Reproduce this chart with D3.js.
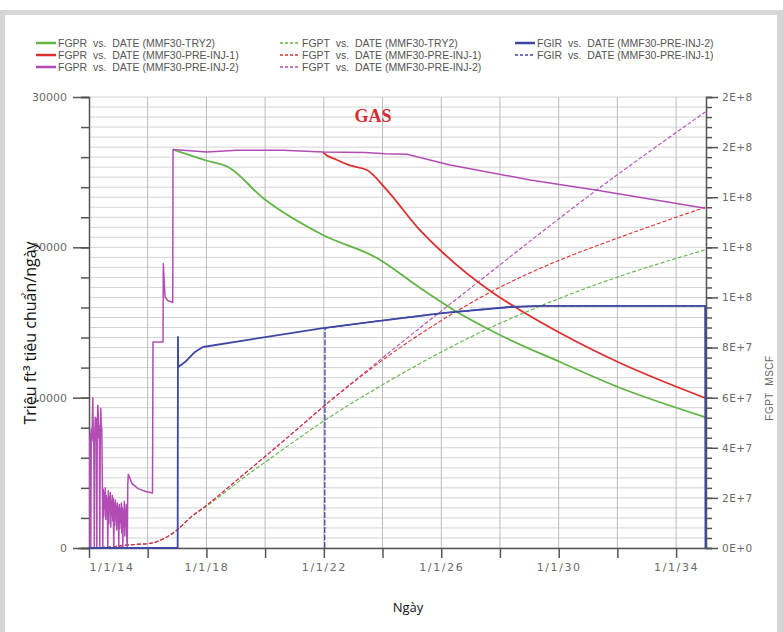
<!DOCTYPE html>
<html>
<head>
<meta charset="utf-8">
<script src="https://cdn.jsdelivr.net/npm/d3@7"></script>
<style>
  body { margin: 0; background: #fff; }
  svg { display: block; }
</style>
</head>
<body>
<script>
// ---- data (decimal years) ----

// FGPR, MMF30-PRE-INJ-2 (left axis): noisy start 2014-2015
const fgprInj2EarlyYear = [2014.000,
  2014.010, 2014.027, 2014.044, 2014.061, 2014.078, 2014.095, 2014.112, 2014.130, 2014.147, 2014.164,
  2014.181, 2014.198, 2014.215, 2014.232, 2014.249, 2014.266, 2014.283, 2014.300, 2014.317, 2014.334,
  2014.351, 2014.368, 2014.385, 2014.402, 2014.419, 2014.436, 2014.453, 2014.470, 2014.487, 2014.504,
  2014.521, 2014.538, 2014.555, 2014.572, 2014.589, 2014.607, 2014.624, 2014.641, 2014.658, 2014.675,
  2014.692, 2014.709, 2014.726, 2014.743, 2014.760, 2014.777, 2014.794, 2014.811, 2014.828, 2014.845,
  2014.862, 2014.879, 2014.896, 2014.913, 2014.930, 2014.947, 2014.964, 2014.981, 2014.998, 2015.015,
  2015.032, 2015.049, 2015.066, 2015.084, 2015.101, 2015.118, 2015.135, 2015.152, 2015.169, 2015.186,
  2015.203, 2015.220, 2015.237, 2015.254, 2015.271, 2015.288, 2015.305, 2015.322, 2015.339];
const fgprInj2Early = [0,
  7200, 6800, 7600, 0, 7900, 7100, 8100, 10000, 7400, 6900,
  0, 7800, 8700, 7200, 8600, 0, 8200, 9500, 8900, 7300,
  8100, 0, 7600, 9300, 8200, 7900, 5000, 0, 3900, 2100,
  3700, 2600, 4000, 1900, 3500, 2300, 3300, 0, 3800, 1600,
  3400, 2500, 3700, 1400, 3100, 2200, 3500, 1800, 3300, 0,
  3000, 1500, 3200, 2000, 2800, 1200, 3000, 1900, 2700, 0,
  2900, 1300, 2600, 1700, 3000, 1000, 2700, 0, 2500, 1400,
  3100, 800, 2600, 1500, 2900, 600, 0, 4200, 4900];
const fgprInj2Year = [2015.465, 2015.670, 2015.908, 2016.164, 2016.181, 2016.522, 2016.532, 2016.590, 2016.692, 2016.852,
  2016.862, 2018.02, 2019.04, 2020.61, 2021.97, 2023.40, 2024.09, 2024.83, 2026.30, 2029.03, 2031.31, 2034.99];
const fgprInj2 = [4300, 3950, 3780, 3660, 13700, 13700, 18900, 16700, 16450, 16350,
  26500, 26340, 26450, 26450, 26340, 26300, 26230, 26190, 25480, 24480, 23800, 22600];

// FGPR, MMF30-PRE-INJ-1 (branches off INJ-2 in 2022)
const fgprInj1Year = [2021.97, 2022.00, 2022.45, 2022.89, 2023.47, 2024.15, 2025.18, 2026.03, 2027.77, 2028.68, 2030.05, 2032.02, 2034.99];
const fgprInj1 = [26340, 26270, 25810, 25450, 25140, 23810, 21350, 19690, 16960, 15830, 14300, 12370, 9980];

// FGPR, MMF30-TRY2
const fgprTry2Year = [2016.862, 2018.02, 2018.74, 2019.93, 2021.97, 2023.81, 2025.28, 2026.54, 2028.00, 2030.05, 2032.02, 2034.99];
const fgprTry2 = [26500, 25760, 25340, 23280, 20820, 19290, 17300, 15700, 14170, 12370, 10710, 8710];

// FGIR, MMF30-PRE-INJ-2 and PRE-INJ-1
const fgirInj2Year = [2014.0, 2017.02, 2017.03, 2017.04, 2017.27, 2017.61, 2017.88, 2020.06, 2021.97, 2023.57, 2026.03, 2028.34, 2029.37, 2034.99, 2035.0];
const fgirInj2 = [0, 0, 14040, 12040, 12370, 13040, 13370, 14040, 14630, 15030, 15630, 16030, 16100, 16100, 0];
const fgirInj1Year = [2022.03, 2022.04, 2023.57, 2026.03, 2028.34, 2029.37, 2034.99];
const fgirInj1 = [0, 14630, 15030, 15630, 16030, 16100, 16100];

// FGPT (right axis, MSCF): common start, then each case
const fgptBaseYear = [2014.0, 2014.72, 2015.33, 2016.15, 2016.59, 2017.03, 2017.44];
const fgptBase = [0, 4e5, 1.2e6, 2.0e6, 4.0e6, 7.5e6, 1.2e7];
const fgptInj2Year = [2018.02, 2019.04, 2020.06, 2021.02, 2021.97, 2023.91, 2027.22, 2031.31, 2034.99];
const fgptInj2 = [1.72e7, 2.71e7, 3.71e7, 4.67e7, 5.63e7, 7.5e7, 1.058e8, 1.43e8, 1.74e8];
const fgptInj1Year = [2018.02, 2019.04, 2020.06, 2021.02, 2021.97, 2023.91, 2026.03, 2027.66, 2030.05, 2031.85, 2034.99];
const fgptInj1 = [1.72e7, 2.71e7, 3.71e7, 4.67e7, 5.63e7, 7.42e7, 9.1e7, 1.02e8, 1.15e8, 1.23e8, 1.36e8];
const fgptTry2Year = [2018.02, 2019.38, 2020.51, 2021.97, 2023.91, 2027.59, 2029.26, 2031.85, 2034.99];
const fgptTry2 = [1.68e7, 2.9e7, 3.85e7, 5.05e7, 6.45e7, 8.75e7, 9.6e7, 1.075e8, 1.19e8];

const legendLabels = [
  "FGPR  vs.  DATE (MMF30-TRY2)", "FGPR  vs.  DATE (MMF30-PRE-INJ-1)", "FGPR  vs.  DATE (MMF30-PRE-INJ-2)",
  "FGPT  vs.  DATE (MMF30-TRY2)", "FGPT  vs.  DATE (MMF30-PRE-INJ-1)", "FGPT  vs.  DATE (MMF30-PRE-INJ-2)",
  "FGIR  vs.  DATE (MMF30-PRE-INJ-2)", "FGIR  vs.  DATE (MMF30-PRE-INJ-1)"
];
const xTickYears = [2014, 2016, 2018, 2020, 2022, 2024, 2026, 2028, 2030, 2032, 2034];
const leftTicks = [0, 10000, 20000, 30000];
const rightTicks = [0, 2e7, 4e7, 6e7, 8e7, 1e8, 1.2e8, 1.4e8, 1.6e8, 1.8e8];

// ---- setup ----
const WIDTH = 783, HEIGHT = 632;
const GREEN = "#62b446", RED = "#de3030", MAGENTA = "#b24cb4", BLUE = "#3f47a6";

const toDate = t => {
  const y = Math.floor(t);
  const s = new Date(y, 0, 1), e = new Date(y + 1, 0, 1);
  return new Date(+s + (t - y) * (e - s));
};
const zip = (ts, vs) => ts.map((t, i) => ({ date: toDate(t), value: vs[i] }));

const svg = d3.select("body").append("svg")
  .attr("width", WIDTH)
  .attr("height", HEIGHT);

// frame
svg.append("rect").attr("width", WIDTH).attr("height", HEIGHT).attr("fill", "#d6d6d6");
svg.append("rect").attr("width", WIDTH).attr("height", 10).attr("fill", "#fff");
svg.append("rect").attr("x", 5).attr("y", 15).attr("width", WIDTH - 11).attr("height", HEIGHT - 15).attr("fill", "#fff");

const x = d3.scaleTime()
  .domain([new Date(2014, 0, 1), new Date(2035, 0, 8)])
  .range([89, 706]);
const yL = d3.scaleLinear().domain([0, 30000]).range([548, 97]);
const yR = d3.scaleLinear().domain([0, 1.8e8]).range([548, 97]);

// grid
const grid = svg.append("g");
grid.selectAll(".hg")
  .data(d3.range(0, 1.8e8 + 1, 4e6))
  .join("line")
  .attr("x1", 89).attr("x2", 706)
  .attr("y1", d => yR(d)).attr("y2", d => yR(d))
  .attr("stroke", "#d4d4d4").attr("stroke-width", 1);
grid.selectAll(".vg")
  .data(xTickYears.slice(1))
  .join("line")
  .attr("x1", d => x(toDate(d))).attr("x2", d => x(toDate(d)))
  .attr("y1", 97).attr("y2", 548)
  .attr("stroke", "#bcbcbc").attr("stroke-width", 1);

// axes
const styleAxis = g => {
  g.select(".domain").attr("stroke", "#555").attr("stroke-width", 1.5);
  g.selectAll(".tick line").attr("stroke", "#555").attr("stroke-width", 1.5);
  g.selectAll("text").attr("fill", "#6a6a6a").attr("font-family", "DejaVu Sans").attr("font-size", 11);
};

svg.append("g")
  .attr("transform", "translate(89,0)")
  .call(d3.axisLeft(yL).tickValues(d3.range(0, 30001, 2000)).tickSize(8).tickFormat(""))
  .call(styleAxis);
svg.append("g")
  .attr("transform", "translate(89,0)")
  .call(d3.axisLeft(yL).tickValues(leftTicks).tickSize(16).tickPadding(6).tickFormat(d3.format("d")))
  .call(styleAxis)
  .call(g => g.select(".domain").remove());

svg.append("g")
  .attr("transform", "translate(706,0)")
  .call(d3.axisRight(yR).tickValues(d3.range(0, 1.8e8 + 1, 4e6)).tickSize(6).tickFormat(""))
  .call(styleAxis);
const sci = d => {
  if (d === 0) return "0E+0";
  const e = Math.floor(Math.log10(d));
  return Math.round(d / Math.pow(10, e)) + "E+" + e;
};
svg.append("g")
  .attr("transform", "translate(706,0)")
  .call(d3.axisRight(yR).tickValues(rightTicks).tickSize(12).tickPadding(4).tickFormat(sci))
  .call(styleAxis)
  .call(g => g.select(".domain").remove())
  .call(g => g.selectAll("text").attr("font-size", 10.5).attr("letter-spacing", 0.5));

const xAxis = svg.append("g")
  .attr("transform", "translate(0,548)")
  .call(d3.axisBottom(x)
    .tickValues(xTickYears.map(toDate))
    .tickSize(10).tickPadding(5)
    .tickFormat((d, i) => i % 2 === 0 ? "1/1/" + String(d.getFullYear()).slice(2) : ""))
  .call(styleAxis)
  .call(g => g.selectAll("text").attr("letter-spacing", 1.6));
xAxis.select(".tick text").attr("text-anchor", "start");
xAxis.select(".domain").attr("d", "M78,0.5H706");

// series
const plot = svg.append("g");
plot.append("clipPath").attr("id", "clip")
  .append("rect").attr("x", 89).attr("y", 90).attr("width", 618).attr("height", 460);
plot.attr("clip-path", "url(#clip)");

const lineL = d3.line().x(d => x(d.date)).y(d => yL(d.value));
const lineR = d3.line().x(d => x(d.date)).y(d => yR(d.value)).curve(d3.curveMonotoneX);
const smoothL = d3.line().x(d => x(d.date)).y(d => yL(d.value)).curve(d3.curveMonotoneX);

const base = zip(fgptBaseYear, fgptBase);
const series = [
  { d: base.concat(zip(fgptTry2Year, fgptTry2)), line: lineR, color: GREEN, w: 1.1, dash: "4,2" },
  { d: base.concat(zip(fgptInj2Year, fgptInj2)), line: lineR, color: MAGENTA, w: 1.1, dash: "4,2" },
  { d: base.concat(zip(fgptInj1Year, fgptInj1)), line: lineR, color: RED, w: 1.1, dash: "4,2" },
  { d: zip(fgprTry2Year, fgprTry2), line: smoothL, color: GREEN, w: 1.8 },
  { d: zip(fgprInj1Year, fgprInj1), line: smoothL, color: RED, w: 1.8 },
  { d: zip(fgprInj2EarlyYear, fgprInj2Early).concat(zip(fgprInj2Year, fgprInj2)), line: lineL, color: MAGENTA, w: 1.5 },
  { d: zip(fgirInj1Year, fgirInj1), line: lineL, color: BLUE, w: 1.3, dash: "6,1.5" },
  { d: zip(fgirInj2Year, fgirInj2), line: lineL, color: BLUE, w: 1.8 }
];
plot.selectAll("path.s")
  .data(series)
  .join("path")
  .attr("class", "s")
  .attr("d", s => s.line(s.d))
  .attr("fill", "none")
  .attr("stroke", s => s.color)
  .attr("stroke-width", s => s.w)
  .attr("stroke-dasharray", s => s.dash || null)
  .attr("stroke-linejoin", "round");

// legend
const legendStyle = [
  { color: GREEN, dash: null, w: 2.5 }, { color: RED, dash: null, w: 2.5 }, { color: MAGENTA, dash: null, w: 2.5 },
  { color: GREEN, dash: "3,2", w: 1.3 }, { color: RED, dash: "3,2", w: 1.3 }, { color: MAGENTA, dash: "3,2", w: 1.3 },
  { color: BLUE, dash: null, w: 2.5 }, { color: BLUE, dash: "3,2", w: 1.3 }
];
const colX = [36, 280, 515];
const legend = svg.append("g")
  .selectAll("g")
  .data(legendLabels)
  .join("g")
  .attr("transform", (d, i) => "translate(" + [colX[Math.floor(i / 3)], 43 + (i % 3) * 12] + ")");
legend.append("line")
  .attr("x1", 0).attr("x2", 20).attr("y1", 0).attr("y2", 0)
  .attr("stroke", (d, i) => legendStyle[i].color)
  .attr("stroke-width", (d, i) => legendStyle[i].w)
  .attr("stroke-dasharray", (d, i) => legendStyle[i].dash);
legend.append("text")
  .attr("x", 22).attr("y", 3.5)
  .attr("font-family", "Liberation Sans Narrow, Liberation Sans, sans-serif")
  .attr("font-size", 10.5)
  .attr("fill", "#555")
  .style("white-space", "pre")
  .text(d => d);

// titles
svg.append("text")
  .attr("x", 373).attr("y", 122)
  .attr("text-anchor", "middle")
  .attr("font-family", "Liberation Serif, serif")
  .attr("font-weight", "bold")
  .attr("font-size", 18)
  .attr("fill", "#d42a30")
  .text("GAS");

svg.append("text")
  .attr("transform", "translate(36,333) rotate(-90)")
  .attr("text-anchor", "middle")
  .attr("font-family", "Open Sans, sans-serif")
  .attr("font-size", 16)
  .attr("fill", "#111")
  .text("Triệu ft³ tiêu chuẩn/ngày");

svg.append("text")
  .attr("transform", "translate(773,388) rotate(-90)")
  .attr("text-anchor", "middle")
  .attr("font-family", "Liberation Sans, sans-serif")
  .attr("font-size", 10)
  .attr("letter-spacing", 0.5)
  .attr("fill", "#6a6a6a")
  .style("white-space", "pre")
  .text("FGPT  MSCF");

svg.append("text")
  .attr("x", 408).attr("y", 612)
  .attr("text-anchor", "middle")
  .attr("font-family", "Open Sans, sans-serif")
  .attr("font-size", 13)
  .attr("fill", "#111")
  .text("Ngày");
</script>
</body>
</html>
